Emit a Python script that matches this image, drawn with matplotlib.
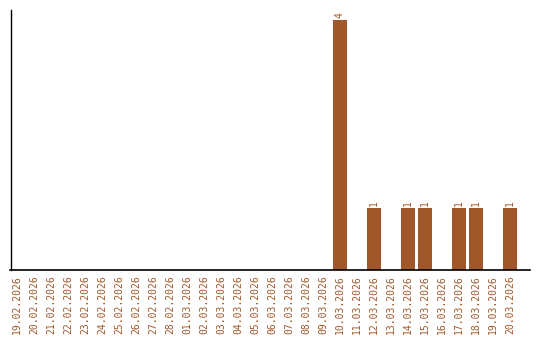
import matplotlib
matplotlib.use("Agg")
import matplotlib.pyplot as plt
import numpy as np

# --- data ---
dates = ["19.02.2026", "20.02.2026", "21.02.2026", "22.02.2026", "23.02.2026",
         "24.02.2026", "25.02.2026", "26.02.2026", "27.02.2026", "28.02.2026",
         "01.03.2026", "02.03.2026", "03.03.2026", "04.03.2026", "05.03.2026",
         "06.03.2026", "07.03.2026", "08.03.2026", "09.03.2026", "10.03.2026",
         "11.03.2026", "12.03.2026", "13.03.2026", "14.03.2026", "15.03.2026",
         "16.03.2026", "17.03.2026", "18.03.2026", "19.03.2026", "20.03.2026"]
counts = [0, 0, 0, 0, 0, 0, 0, 0, 0, 0,
          0, 0, 0, 0, 0, 0, 0, 0, 0, 4,
          0, 1, 0, 1, 1, 0, 1, 1, 0, 1]

brown = "#a0572a"
mono = "DejaVu Sans Mono"

fig = plt.figure(figsize=(5.4, 3.4), dpi=100)
ax = fig.add_axes([10.5 / 540, 70 / 340, 519.5 / 540, 260 / 340])

x = np.arange(len(dates))
bars = ax.bar(x, counts, width=14 / 17, color=brown)

for xi, c in zip(x, counts):
    if c > 0:
        ax.text(xi, c + 0.03, str(c), rotation=90, ha="center", va="bottom",
                color=brown, fontsize=7, family=mono)

ax.set_xlim(-0.38, 30.18)
ax.set_ylim(0, 4.16)
ax.set_xticks(x)
ax.set_xticklabels(dates, rotation=90, color=brown, fontsize=7, family=mono)
ax.tick_params(axis="x", length=0, pad=4)
ax.set_yticks([])

for s in ["top", "right"]:
    ax.spines[s].set_visible(False)
ax.spines["left"].set_linewidth(1.0)
ax.spines["bottom"].set_linewidth(1.2)

fig.savefig("out.png", dpi=100)
